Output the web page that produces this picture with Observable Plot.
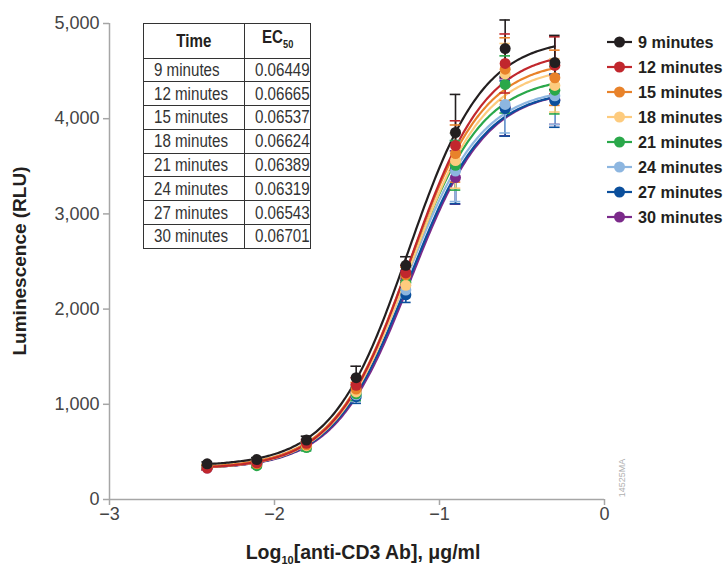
<!DOCTYPE html>
<html>
<head>
<meta charset="utf-8">
<script src="https://cdn.jsdelivr.net/npm/d3@7"></script>
<script src="https://cdn.jsdelivr.net/npm/@observablehq/plot@0.6"></script>
<style>
  html, body { margin: 0; padding: 0; background: #fff; }
  #wrap { position: relative; width: 723px; height: 568px; font-family: "Liberation Sans", Arial, sans-serif; }
  #ectable { position: absolute; left: 143px; top: 23px; width: 166px; border-collapse: collapse; table-layout: fixed; font-family: "Liberation Sans", Arial, sans-serif; font-size: 18px; color: #333; background: #fff; }
  #ectable td, #ectable th { border: 1.5px solid #333; padding: 0; height: 22.8px; text-align: left; font-weight: normal; white-space: nowrap; overflow: hidden; }
  #ectable th { font-weight: bold; text-align: center; height: 33.5px; color: #231f20; }
  #ectable .c { display: inline-block; transform: scaleX(0.84); transform-origin: left center; margin-left: 10px; line-height: 22px; }
  #ectable th .c { transform-origin: center center; margin-left: 0; }
  #ectable sub { font-size: 11px; }
</style>
</head>
<body>
<div id="wrap"><div id="chart"></div></div>
<script>
// ---- data ----
const times = ["9 minutes", "12 minutes", "15 minutes", "18 minutes", "21 minutes", "24 minutes", "27 minutes", "30 minutes"];
const colors = ["#231f20", "#c1272d", "#e8822a", "#fdcb7e", "#2aa84a", "#8db6e0", "#0b4f9c", "#7b2a8a"];
const ec50 = [0.06449, 0.06665, 0.06537, 0.06624, 0.06389, 0.06319, 0.06543, 0.06701];
const ec50Labels = ["0.06449", "0.06665", "0.06537", "0.06624", "0.06389", "0.06319", "0.06543", "0.06701"];
// log10 concentrations (2-fold dilutions)
const logConc = [-2.408, -2.107, -1.806, -1.505, -1.204, -0.903, -0.602, -0.301];
// mean luminescence (RLU) per series
const rlu09 = [375, 420, 625, 1280, 2460, 3855, 4737, 4590];
const rlu12 = [330, 385, 590, 1200, 2380, 3718, 4580, 4560];
const rlu15 = [345, 375, 575, 1160, 2360, 3634, 4520, 4430];
const rlu18 = [350, 390, 565, 1130, 2250, 3560, 4470, 4350];
const rlu21 = [340, 355, 545, 1110, 2280, 3510, 4360, 4300];
const rlu24 = [335, 370, 555, 1100, 2200, 3450, 4150, 4240];
const rlu27 = [340, 380, 560, 1080, 2150, 3477, 4107, 4190];
const rlu30 = [330, 375, 575, 1140, 2320, 3382, 4120, 4200];
// error (SD) per series
const sd09 = [20, 20, 40, 120, 90, 400, 300, 285];
const sd12 = [20, 20, 40, 80, 80, 260, 310, 300];
const sd15 = [20, 20, 35, 70, 80, 300, 330, 290];
const sd18 = [20, 20, 35, 70, 80, 290, 320, 280];
const sd21 = [20, 20, 35, 70, 80, 260, 300, 250];
const sd24 = [20, 20, 35, 70, 80, 320, 300, 300];
const sd27 = [20, 20, 35, 70, 80, 370, 290, 280];
const sd30 = [20, 20, 35, 70, 80, 280, 300, 260];
// 4-parameter logistic fit parameters
const fitTop = [4850, 4720, 4620, 4560, 4450, 4330, 4310, 4310];
const fitBottom = [350, 320, 330, 320, 320, 320, 320, 320];
const fitHill = [1.9, 1.9, 1.9, 1.9, 1.9, 1.9, 1.9, 1.9];
const yTicks = [0, 1000, 2000, 3000, 4000, 5000];
const xTicks = [-3, -2, -1, 0];

const means = [rlu09, rlu12, rlu15, rlu18, rlu21, rlu24, rlu27, rlu30];
const sds = [sd09, sd12, sd15, sd18, sd21, sd24, sd27, sd30];

// build tables
const points = [];
const curves = [];
const order = d3.range(times.length).reverse(); // draw 9 minutes on top
for (const i of order) {
  logConc.forEach((x, j) => points.push({time: times[i], x, y: means[i][j], sd: sds[i][j]}));
  const le = Math.log10(ec50[i]);
  const xs = d3.range(logConc[0], logConc[logConc.length - 1] + 1e-9, 0.01);
  xs.push(logConc[logConc.length - 1]);
  xs.forEach(x => curves.push({time: times[i], x,
    y: fitBottom[i] + (fitTop[i] - fitBottom[i]) / (1 + Math.pow(10, fitHill[i] * (le - x)))}));
}
const capW = 0.032;
const axisGray = "#a6a6a6";

const plot = Plot.plot({
  width: 723, height: 568,
  marginLeft: 109, marginRight: 119, marginTop: 23, marginBottom: 69,
  x: {domain: [-3, 0]},
  y: {domain: [0, 5000]},
  color: {domain: times, range: colors},
  style: {fontFamily: "'Liberation Sans', Arial, sans-serif", fontSize: "18px", background: "transparent", overflow: "visible"},
  marks: [
    Plot.ruleX([-3], {stroke: axisGray, strokeWidth: 1.5}),
    Plot.ruleY([0], {stroke: axisGray, strokeWidth: 1.5}),
    Plot.axisY({ticks: yTicks, tickFormat: d3.format(","), tickSize: 6, tickPadding: 4, stroke: axisGray, fill: "#444", label: null, strokeWidth: 1.5}),
    Plot.axisX({ticks: xTicks, tickFormat: d => d < 0 ? "\u2212" + Math.abs(d) : String(d), tickSize: 6, tickPadding: 2, stroke: axisGray, fill: "#444", label: null, strokeWidth: 1.5}),
    Plot.line(curves, {x: "x", y: "y", z: "time", stroke: "time", strokeWidth: 2.2, curve: "linear"}),
    Plot.ruleX(points, {x: "x", y1: d => d.y - d.sd, y2: d => d.y + d.sd, stroke: "time", strokeWidth: 1.6}),
    Plot.ruleY(points, {y: d => d.y + d.sd, x1: d => d.x - capW, x2: d => d.x + capW, stroke: "time", strokeWidth: 1.6}),
    Plot.ruleY(points, {y: d => d.y - d.sd, x1: d => d.x - capW, x2: d => d.x + capW, stroke: "time", strokeWidth: 1.6}),
    Plot.dot(points, {x: "x", y: "y", fill: "time", r: 5.5})
  ]
});
document.getElementById("chart").appendChild(plot);

const svg = d3.select(plot);
// axis titles
svg.append("text")
  .attr("transform", "translate(26,261) rotate(-90)")
  .attr("text-anchor", "middle")
  .attr("font-family", "'Liberation Sans', Arial, sans-serif")
  .attr("font-weight", "bold").attr("font-size", 19).attr("fill", "#231f20")
  .text("Luminescence (RLU)");
const xt = svg.append("text")
  .attr("x", 363).attr("y", 559)
  .attr("text-anchor", "middle")
  .attr("font-family", "'Liberation Sans', Arial, sans-serif")
  .attr("font-weight", "bold").attr("font-size", 19.5).attr("fill", "#231f20");
xt.append("tspan").text("Log");
xt.append("tspan").attr("font-size", 11).attr("dy", 5).text("10");
xt.append("tspan").attr("dy", -5).text("[anti-CD3 Ab], μg/ml");

// legend
const lg = svg.append("g").attr("transform", "translate(607,42)");
times.forEach((t, i) => {
  const g = lg.append("g").attr("transform", `translate(0,${i * 25})`);
  g.append("line").attr("x1", 0).attr("x2", 25).attr("stroke", colors[i]).attr("stroke-width", 2.2);
  g.append("circle").attr("cx", 12.5).attr("r", 5.5).attr("fill", colors[i]);
  g.append("text").attr("x", 31).attr("dy", "0.36em")
    .attr("text-anchor", "start")
    .attr("font-family", "'Liberation Sans', Arial, sans-serif")
    .attr("font-weight", "bold").attr("font-size", 16.2).attr("fill", "#231f20").text(t);
});

// figure code
svg.append("text")
  .attr("transform", "translate(625,478) rotate(-90)")
  .attr("text-anchor", "middle")
  .attr("font-size", 9).attr("fill", "#b0b0b0")
  .text("14525MA");

// EC50 table
const tbl = d3.select("#wrap").append("table").attr("id", "ectable");
const hr = tbl.append("tr");
hr.append("th").style("width", "100px").append("span").attr("class", "c").text("Time");
hr.append("th").style("width", "65px").append("span").attr("class", "c").html("EC<sub>50</sub>");
times.forEach((t, i) => {
  const r = tbl.append("tr");
  r.append("td").append("span").attr("class", "c").text(t);
  r.append("td").append("span").attr("class", "c").text(ec50Labels[i]);
});
</script>
</body>
</html>
